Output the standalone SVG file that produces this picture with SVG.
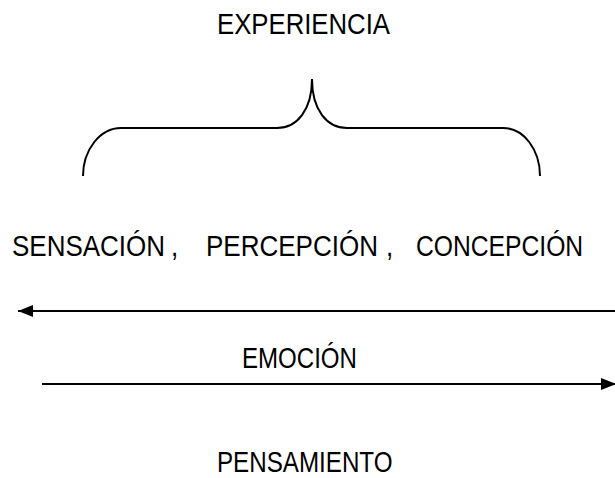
<svg xmlns="http://www.w3.org/2000/svg" width="615" height="478" viewBox="0 0 615 478">
<style>
text{font-family:"Liberation Sans",Arial,sans-serif;font-size:30px;fill:#000}
.ln{stroke:#000;stroke-width:2;fill:none}
</style>
<defs>
<marker id="ah" markerWidth="15" markerHeight="12" refX="15" refY="6" orient="auto" markerUnits="userSpaceOnUse">
<path d="M0,0 L15,6 L0,12 Z" fill="#000"/>
</marker>
</defs>
<rect width="615" height="478" fill="#fff"/>
<g id="experiencia"><text transform="translate(217,34) scale(0.858,1)">EXPERIENCIA</text></g>
<g id="brace"><path class="ln" stroke-width="1.6" d="M83,176 C83,150 100,128 121,128 L277,128 C297,128 312,110 312,79 C312,110 327,128 347,128 L503,128 C524,128 540,150 540,176"/></g>
<g id="sensacion">
<text transform="translate(12,256) scale(0.866,1)">SENSACIÓN</text>
<text transform="translate(171,256) scale(0.866,1)">,</text>
</g>
<g id="percepcion">
<text transform="translate(206,256) scale(0.867,1)">PERCEPCIÓN</text>
<text transform="translate(386,256) scale(0.866,1)">,</text>
</g>
<g id="concepcion"><text transform="translate(416,256) scale(0.822,1)">CONCEPCIÓN</text></g>
<g id="emocion"><text transform="translate(242,368) scale(0.802,1)">EMOCIÓN</text></g>
<g id="pensamiento"><text transform="translate(217,472) scale(0.806,1)">PENSAMIENTO</text></g>
<g id="connectors">
<line class="ln" x1="615" y1="311" x2="18" y2="311" marker-end="url(#ah)"/>
<line class="ln" x1="42" y1="384" x2="616" y2="384" marker-end="url(#ah)"/>
</g>
</svg>
